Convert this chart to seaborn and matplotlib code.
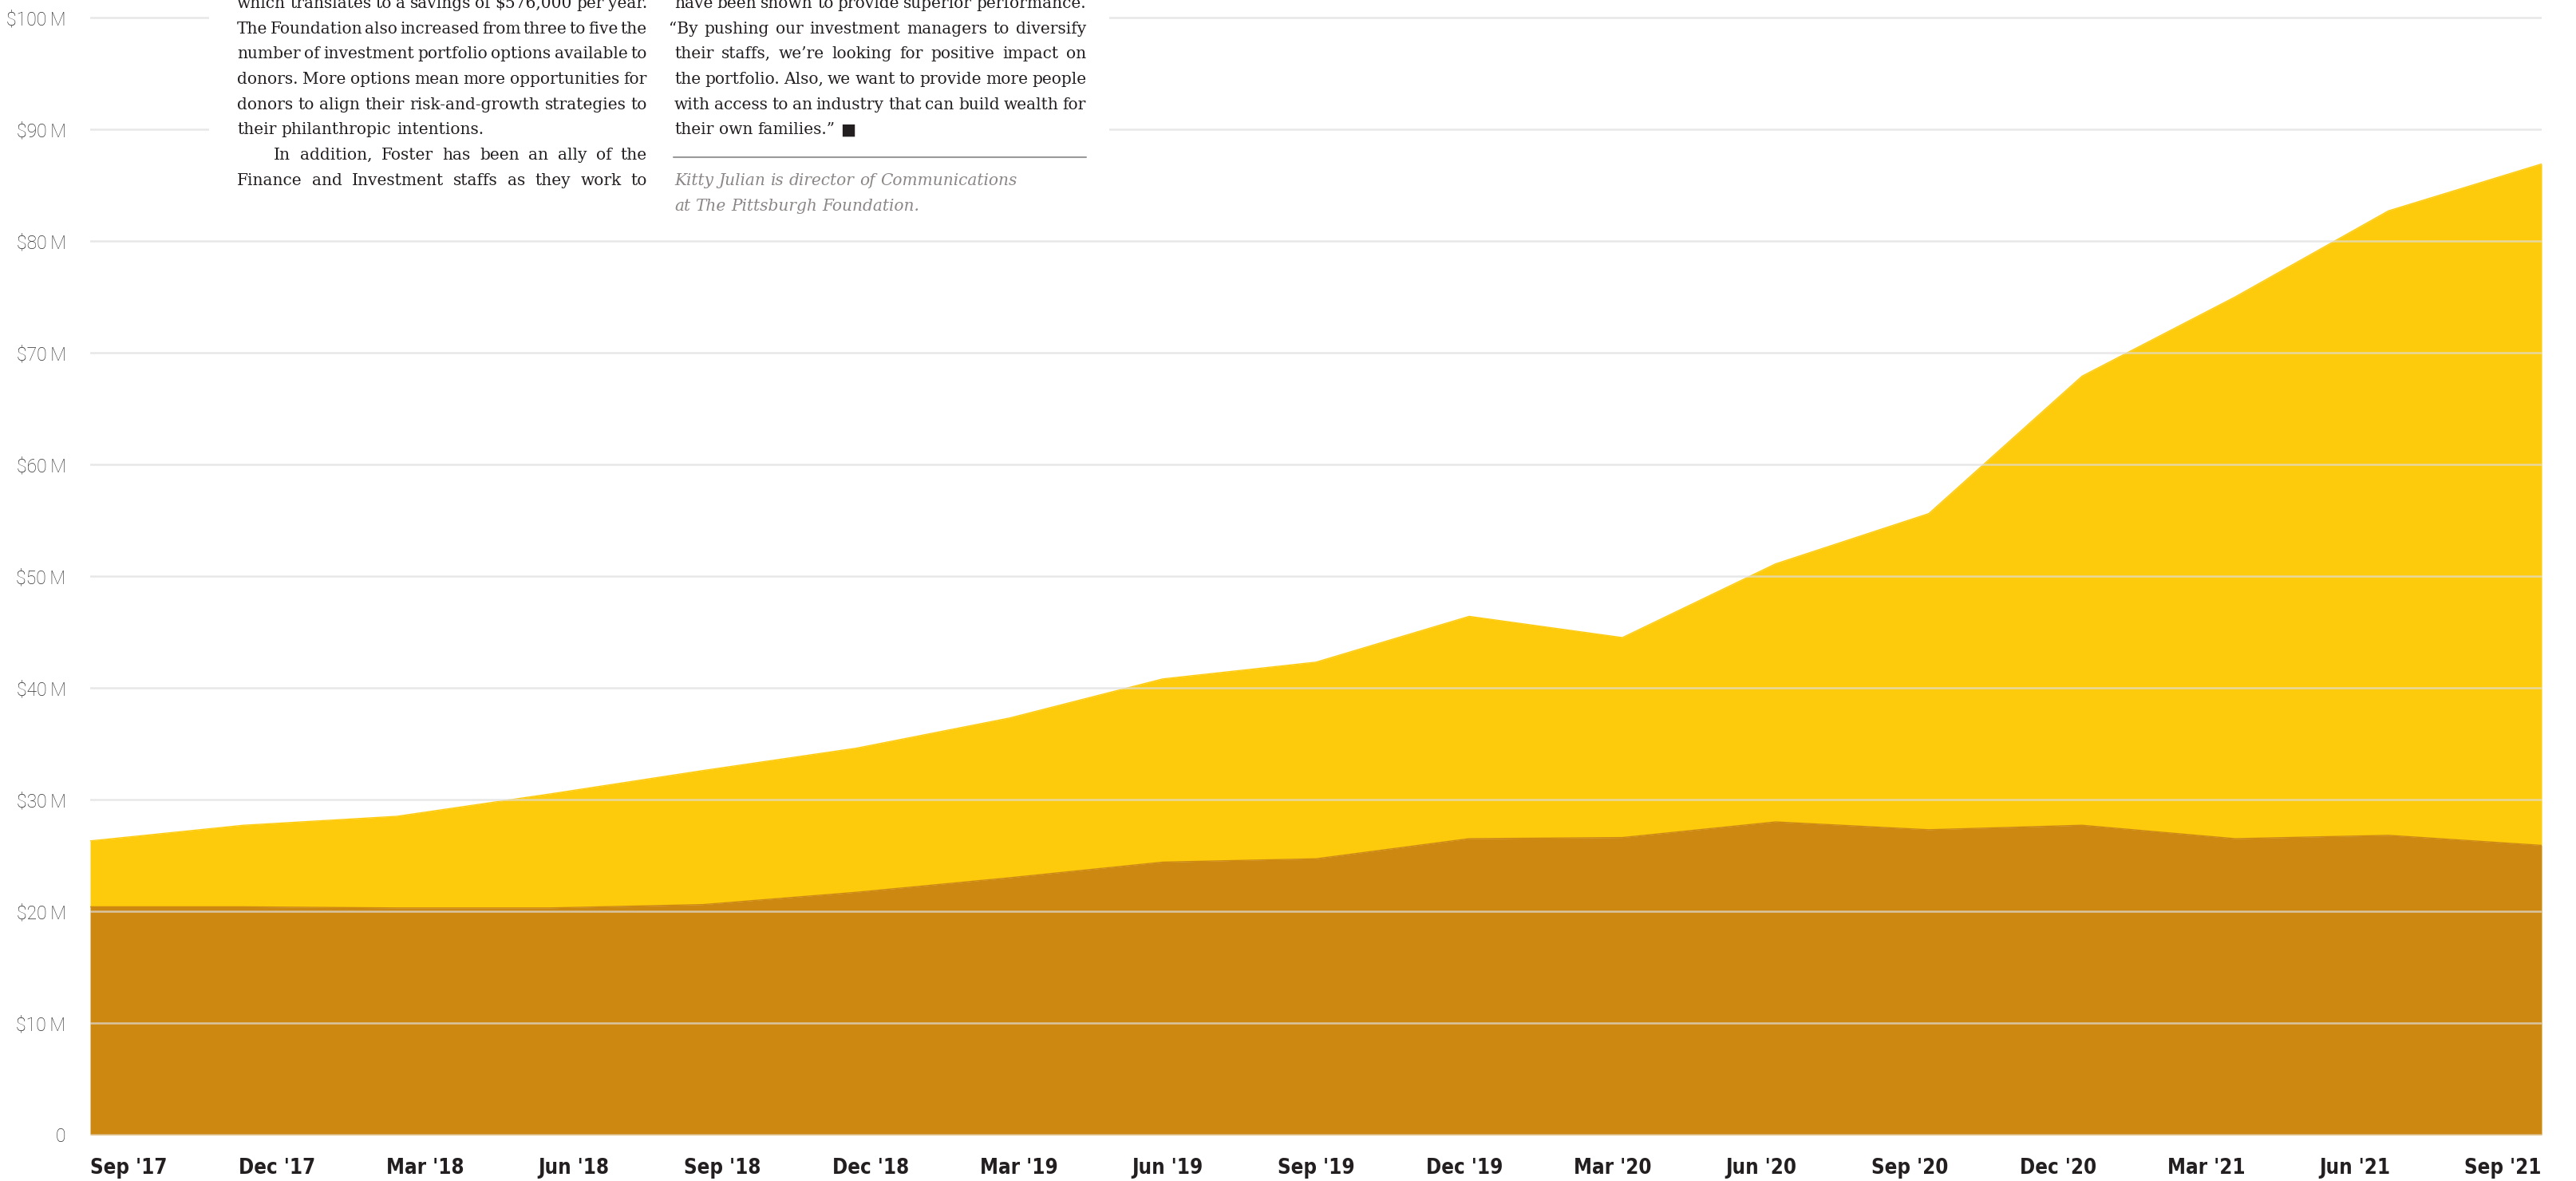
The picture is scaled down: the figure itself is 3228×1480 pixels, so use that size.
import numpy as np
import pandas as pd
import matplotlib
matplotlib.use("Agg")
import matplotlib.pyplot as plt
import matplotlib.transforms as mtransforms
from matplotlib import font_manager
from matplotlib.patches import Rectangle
import seaborn as sns

# Quarter-end values in $ millions
quarters = ["Sep '17", "Dec '17", "Mar '18", "Jun '18", "Sep '18", "Dec '18",
            "Mar '19", "Jun '19", "Sep '19", "Dec '19", "Mar '20", "Jun '20",
            "Sep '20", "Dec '20", "Mar '21", "Jun '21", "Sep '21"]
total_m = [26.3, 27.7, 28.5, 30.5, 32.6, 34.6, 37.3, 40.8, 42.3, 46.4, 44.5,
           51.1, 55.6, 67.9, 75.0, 82.7, 86.9]
lower_m = [20.4, 20.4, 20.3, 20.3, 20.6, 21.7, 23.0, 24.4, 24.7, 26.5, 26.6,
           28.0, 27.3, 27.7, 26.5, 26.8, 25.9]

y_ticks = [0, 10, 20, 30, 40, 50, 60, 70, 80, 90, 100]
y_labels = ["0", "$10\u2009M", "$20\u2009M", "$30\u2009M", "$40\u2009M", "$50\u2009M",
            "$60\u2009M", "$70\u2009M", "$80\u2009M", "$90\u2009M", "$100\u2009M"]

# article text that overlaps the top of the chart
left_col = [
    "which translates to a savings of $576,000 per year.",
    "The Foundation also increased from three to five the",
    "number of investment portfolio options available to",
    "donors. More options mean more opportunities for",
    "donors to align their risk-and-growth strategies to",
    "their philanthropic intentions.",
    "In addition, Foster has been an ally of the",
    "Finance and Investment staffs as they work to",
]
right_col = [
    "have been shown to provide superior performance.",
    "\u201cBy pushing our investment managers to diversify",
    "their staffs, we\u2019re looking for positive impact on",
    "the portfolio. Also, we want to provide more people",
    "with access to an industry that can build wealth for",
    "their own families.\u201d \u25a0",
]
caption = [
    "Kitty Julian is director of Communications",
    "at The Pittsburgh Foundation.",
]

YELLOW = "#fdca0c"
DARK = "#cd8811"
INK = "#231f20"

W, H, DPI = 3228, 1480, 100

names = {f.name for f in font_manager.fontManager.ttflist}
xfam = "Liberation Sans Narrow" if "Liberation Sans Narrow" in names else "DejaVu Sans"
yfam = "Roboto" if "Roboto" in names else "DejaVu Sans"
serif = ["DejaVu Serif", "DejaVu Sans"]

sns.set_theme(style="white")
fig = plt.figure(figsize=(W / DPI, H / DPI), dpi=DPI)
ax = fig.add_axes([113 / W, (H - 1422) / H, 3072 / W, 1414 / H])

df = pd.DataFrame({"pos": np.arange(len(quarters)), "quarter": quarters,
                   "total": total_m, "lower": lower_m})

ax.fill_between(df["pos"], df["lower"], df["total"], color=YELLOW, lw=0, zorder=1)
ax.fill_between(df["pos"], 0, df["lower"], color=DARK, lw=0, zorder=2)
sns.lineplot(data=df, x="pos", y="total", color=YELLOW, lw=1, ax=ax, zorder=2)
sns.lineplot(data=df, x="pos", y="lower", color=DARK, lw=1, ax=ax, zorder=2)

for v in y_ticks:
    ax.axhline(v, color="#dedede", alpha=0.7, lw=1.8, zorder=3)

ax.set_xlim(0, len(quarters) - 1)
ax.set_ylim(0, 101)
ax.set_xlabel("")
ax.set_ylabel("")
for s in ax.spines.values():
    s.set_visible(False)

ax.set_yticks(y_ticks, y_labels)
ax.tick_params(axis="y", length=0, pad=22, labelsize=16.5, labelcolor="#2e2e2e")
for lab in ax.get_yticklabels():
    lab.set_fontfamily([yfam, "DejaVu Sans"])
    lab.set_fontweight("light")

ax.set_xticks(df["pos"], quarters)
ax.tick_params(axis="x", length=0, pad=21, labelsize=18.5, labelcolor=INK)
for lab in ax.get_xticklabels():
    lab.set_fontfamily(xfam)
    lab.set_fontweight("bold")
    if xfam == "DejaVu Sans":
        lab.set_fontstretch("condensed")

fig.canvas.draw()
renderer = fig.canvas.get_renderer()

# spread the date labels edge to edge, like the original
xl = ax.get_xticklabels()
n = len(xl)
w0 = xl[0].get_window_extent(renderer).width
w1 = xl[-1].get_window_extent(renderer).width
c_first = 113 + w0 / 2
c_last = 3185 - w1 / 2
for i, lab in enumerate(xl):
    tick_px = 113 + i * 3072 / (n - 1)
    want = c_first + (c_last - c_first) * i / (n - 1)
    dx = (want - tick_px) / DPI
    lab.set_transform(lab.get_transform() + mtransforms.ScaledTranslation(dx, 0, fig.dpi_scale_trans))

# white panel behind the article text
fig.add_artist(Rectangle((262 / W, 1 - 285 / H), (1390 - 262) / W, 285 / H + 0.01,
                         transform=fig.transFigure, facecolor="white",
                         edgecolor="none", zorder=5))


def put_line(line, x0, x1, base_y, justify, **kw):
    words = line.split(" ")
    texts = [fig.text(0, 1 - base_y / H, w, ha="left", va="baseline", zorder=6, **kw)
             for w in words]
    widths = [t.get_window_extent(renderer).width for t in texts]
    a = fig.text(0, 0, "n n", **kw)
    b = fig.text(0, 0, "nn", **kw)
    space = a.get_window_extent(renderer).width - b.get_window_extent(renderer).width
    a.remove()
    b.remove()
    if justify and len(words) > 1:
        gap = (x1 - x0 - sum(widths)) / (len(words) - 1)
    else:
        gap = space
    x = x0
    for t, w in zip(texts, widths):
        t.set_x(x / W)
        x += w + gap


body = dict(fontsize=14.5, color=INK, family=serif)
base = [10 + 31.7 * i for i in range(9)]

for i, line in enumerate(left_col):
    x0 = 343 if i == 6 else 297
    put_line(line, x0, 811, base[i], justify=(i != 5), **body)

for i, line in enumerate(right_col):
    x0 = 838 if i == 1 else 845
    put_line(line, x0, 1361, base[i], justify=(i != len(right_col) - 1), **body)

fig.add_artist(plt.Line2D([844 / W, 1361 / W], [1 - 197 / H, 1 - 197 / H],
                          transform=fig.transFigure, color="#9a9a9a", lw=1.5, zorder=6))

cap = dict(fontsize=14.5, color="#8c8787", family=serif, style="italic")
put_line(caption[0], 845, 1361, 232, justify=False, **cap)
put_line(caption[1], 845, 1361, 264, justify=False, **cap)

fig.savefig("out.png", dpi=DPI, facecolor="white")
